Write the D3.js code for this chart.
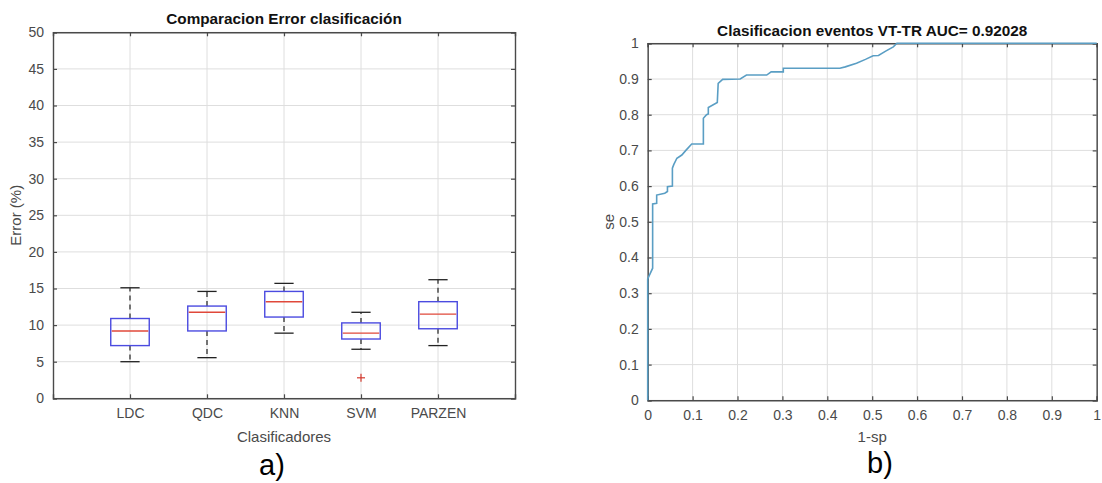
<!DOCTYPE html>
<html>
<head>
<meta charset="utf-8">
<script src="https://cdn.jsdelivr.net/npm/d3@7"></script>
<style>
  html, body { margin: 0; padding: 0; background: #ffffff; }
  svg { display: block; font-family: "Liberation Sans", Arial, Helvetica, sans-serif; }
</style>
</head>
<body>
<svg id="chart" width="1102" height="483"></svg>
<script>
// ---------- Data: panel a) box plot ----------
const categories = ["LDC", "QDC", "KNN", "SVM", "PARZEN"];
const whiskerLow  = [5.0, 5.55, 8.9, 6.7, 7.2];
const q1          = [7.2, 9.2, 11.1, 8.1, 9.5];
const medians     = [9.2, 11.75, 13.2, 8.9, 11.5];
const q3          = [10.9, 12.6, 14.6, 10.3, 13.2];
const whiskerHigh = [15.1, 14.6, 15.7, 11.75, 16.2];
const outlierCats   = ["SVM"];
const outlierValues = [2.8];
const boxYTicks = [0, 5, 10, 15, 20, 25, 30, 35, 40, 45, 50];

// ---------- Data: panel b) ROC curve ----------
const rocFpr = [0, 0, 0.011, 0.011, 0.02, 0.02, 0.038, 0.044, 0.044, 0.055, 0.055, 0.058, 0.065, 0.076, 0.085, 0.098, 0.124, 0.124, 0.131, 0.135, 0.135, 0.155, 0.157, 0.167, 0.206, 0.22, 0.265, 0.275, 0.302, 0.302, 0.428, 0.44, 0.465, 0.485, 0.502, 0.514, 0.53, 0.547, 0.555, 1];
const rocTpr = [0, 0.34, 0.37, 0.55, 0.552, 0.575, 0.58, 0.585, 0.598, 0.6, 0.65, 0.66, 0.678, 0.687, 0.7, 0.718, 0.718, 0.79, 0.8, 0.802, 0.82, 0.834, 0.888, 0.899, 0.9, 0.911, 0.911, 0.92, 0.92, 0.93, 0.93, 0.934, 0.944, 0.955, 0.965, 0.966, 0.978, 0.99, 1, 1];
const rocTicks = [0, 0.1, 0.2, 0.3, 0.4, 0.5, 0.6, 0.7, 0.8, 0.9, 1];

const titleA = "Comparacion Error clasificación";
const titleB = "Clasificacion eventos VT-TR AUC= 0.92028";

// ---------- Styles ----------
const AXIS = "#4a4a4a", GRID = "#dedede", TICKTXT = "#4a4a4a";
const TICKFONT = 14, LABELFONT = 15, TITLEFONT = 15.3;

const svg = d3.select("#chart");

function frame(g, x, y, xTicks, yTicks, xFmt, yFmt) {
  const [x0, x1] = x.range(), [y0, y1] = y.range();
  // grid
  g.append("g").selectAll("line").data(xTicks).join("line")
    .attr("x1", d => x(d)).attr("x2", d => x(d)).attr("y1", y0).attr("y2", y1)
    .attr("stroke", GRID).attr("stroke-width", 1);
  g.append("g").selectAll("line").data(yTicks).join("line")
    .attr("x1", x0).attr("x2", x1).attr("y1", d => y(d)).attr("y2", d => y(d))
    .attr("stroke", GRID).attr("stroke-width", 1);
  // axes (inward ticks)
  const bottom = g.append("g").attr("transform", `translate(0,${y0})`)
    .call(d3.axisBottom(x).tickValues(xTicks).tickSize(-4).tickPadding(10).tickFormat(xFmt));
  const top = g.append("g").attr("transform", `translate(0,${y1})`)
    .call(d3.axisTop(x).tickValues(xTicks).tickSize(-4).tickFormat(""));
  const left = g.append("g").attr("transform", `translate(${x0},0)`)
    .call(d3.axisLeft(y).tickValues(yTicks).tickSize(-4).tickPadding(9).tickFormat(yFmt));
  const right = g.append("g").attr("transform", `translate(${x1},0)`)
    .call(d3.axisRight(y).tickValues(yTicks).tickSize(-4).tickFormat(""));
  [bottom, top, left, right].forEach(a => {
    a.select(".domain").attr("stroke", AXIS).attr("stroke-width", 1.4);
    a.selectAll(".tick line").attr("stroke", AXIS).attr("stroke-width", 1.2);
    a.selectAll(".tick text").attr("fill", TICKTXT)
      .style("font-size", TICKFONT + "px").style("font-family", '"Liberation Sans", Arial, sans-serif');
  });
}

// ================= Panel a) =================
{
  const g = svg.append("g");
  const x = d3.scaleLinear().domain([0, categories.length + 1]).range([53, 515]);
  const y = d3.scaleLinear().domain([0, 50]).range([398.3, 32.3]);
  const pos = (c) => x(categories.indexOf(c) + 1);
  frame(g, x, y, categories.map((c, i) => i + 1), boxYTicks, (d) => categories[d - 1], d3.format("d"));

  const bw = (x(1) - x(0)) * 0.5;
  const cw = (x(1) - x(0)) * 0.25;
  const boxes = g.append("g").selectAll("g").data(categories).join("g");
  // whiskers dashed
  boxes.append("line")
    .attr("x1", c => pos(c)).attr("x2", c => pos(c))
    .attr("y1", (c, i) => y(q3[i])).attr("y2", (c, i) => y(whiskerHigh[i]))
    .attr("stroke", "#222").attr("stroke-width", 1.2).attr("stroke-dasharray", "5,4");
  boxes.append("line")
    .attr("x1", c => pos(c)).attr("x2", c => pos(c))
    .attr("y1", (c, i) => y(q1[i])).attr("y2", (c, i) => y(whiskerLow[i]))
    .attr("stroke", "#222").attr("stroke-width", 1.2).attr("stroke-dasharray", "5,4");
  // caps
  boxes.append("line")
    .attr("x1", c => pos(c) - cw / 2).attr("x2", c => pos(c) + cw / 2)
    .attr("y1", (c, i) => y(whiskerHigh[i])).attr("y2", (c, i) => y(whiskerHigh[i]))
    .attr("stroke", "#222").attr("stroke-width", 1.3);
  boxes.append("line")
    .attr("x1", c => pos(c) - cw / 2).attr("x2", c => pos(c) + cw / 2)
    .attr("y1", (c, i) => y(whiskerLow[i])).attr("y2", (c, i) => y(whiskerLow[i]))
    .attr("stroke", "#222").attr("stroke-width", 1.3);
  // box
  boxes.append("rect")
    .attr("x", c => pos(c) - bw / 2).attr("width", bw)
    .attr("y", (c, i) => y(q3[i])).attr("height", (c, i) => y(q1[i]) - y(q3[i]))
    .attr("fill", "none").attr("stroke", "#4b4be0").attr("stroke-width", 1.4);
  // median
  boxes.append("line")
    .attr("x1", c => pos(c) - bw / 2 + 1).attr("x2", c => pos(c) + bw / 2 - 1)
    .attr("y1", (c, i) => y(medians[i])).attr("y2", (c, i) => y(medians[i]))
    .attr("stroke", "#e0483a").attr("stroke-width", 1.4);
  // outliers
  const outs = g.append("g").selectAll("g").data(outlierCats).join("g")
    .attr("transform", (c, i) => `translate(${pos(c)},${y(outlierValues[i])})`);
  outs.append("line").attr("x1", -4).attr("x2", 4).attr("stroke", "#d43a2e").attr("stroke-width", 1.2);
  outs.append("line").attr("y1", -4).attr("y2", 4).attr("stroke", "#d43a2e").attr("stroke-width", 1.2);

  g.append("text").attr("x", (x.range()[0] + x.range()[1]) / 2).attr("y", 24)
    .attr("text-anchor", "middle").style("font-weight", "bold").style("font-size", TITLEFONT + "px")
    .attr("fill", "#111").text(titleA);
  g.append("text").attr("x", (x.range()[0] + x.range()[1]) / 2).attr("y", 442)
    .attr("text-anchor", "middle").style("font-size", LABELFONT + "px").attr("fill", TICKTXT)
    .text("Clasificadores");
  g.append("text").attr("transform", `translate(21,${(y.range()[0] + y.range()[1]) / 2}) rotate(-90)`)
    .attr("text-anchor", "middle").style("font-size", LABELFONT + "px").attr("fill", TICKTXT)
    .text("Error (%)");
  g.append("text").attr("x", 272).attr("y", 475).attr("text-anchor", "middle")
    .style("font-size", "29px").attr("fill", "#000").text("a)");
}

// ================= Panel b) =================
{
  const g = svg.append("g");
  const x = d3.scaleLinear().domain([0, 1]).range([647.7, 1096.7]);
  const y = d3.scaleLinear().domain([0, 1]).range([400.3, 43.3]);
  frame(g, x, y, rocTicks, rocTicks, d3.format("~g"), d3.format("~g"));

  const pts = rocFpr.map((f, i) => [f, rocTpr[i]]);
  g.append("path").datum(pts)
    .attr("d", d3.line().x(d => x(d[0])).y(d => y(d[1])))
    .attr("fill", "none").attr("stroke", "#5a9ec4").attr("stroke-width", 1.6);

  g.append("text").attr("x", (x.range()[0] + x.range()[1]) / 2).attr("y", 36)
    .attr("text-anchor", "middle").style("font-weight", "bold").style("font-size", TITLEFONT + "px")
    .attr("fill", "#111").text(titleB);
  g.append("text").attr("x", (x.range()[0] + x.range()[1]) / 2).attr("y", 442)
    .attr("text-anchor", "middle").style("font-size", LABELFONT + "px").attr("fill", TICKTXT)
    .text("1-sp");
  g.append("text").attr("transform", `translate(614,${(y.range()[0] + y.range()[1]) / 2}) rotate(-90)`)
    .attr("text-anchor", "middle").style("font-size", LABELFONT + "px").attr("fill", TICKTXT)
    .text("se");
  g.append("text").attr("x", 880).attr("y", 473).attr("text-anchor", "middle")
    .style("font-size", "29px").attr("fill", "#000").text("b)");
}
</script>
</body>
</html>
